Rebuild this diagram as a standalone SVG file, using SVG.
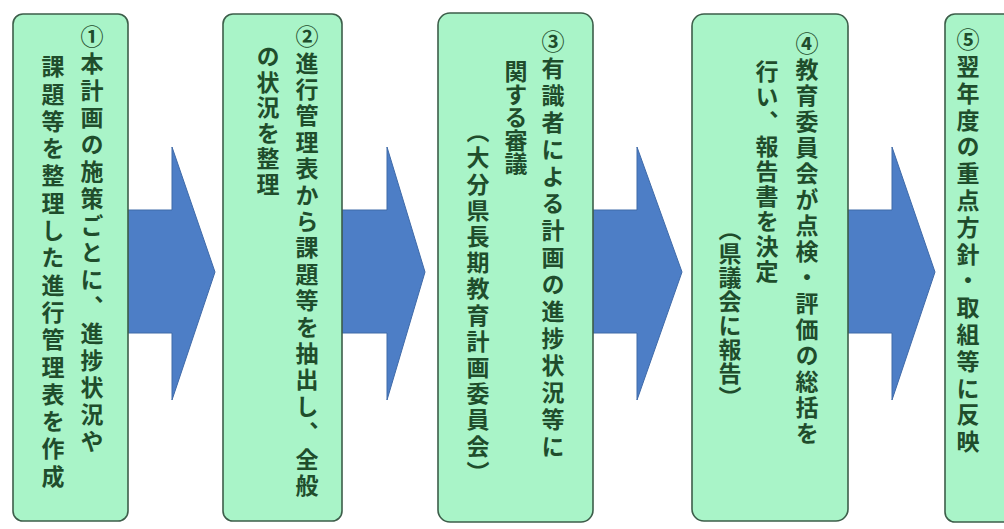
<svg xmlns="http://www.w3.org/2000/svg" width="1004" height="529" viewBox="0 0 1004 529">
<style>
.box{fill:#a9f4c8;stroke:#3d5e4a;stroke-width:1.6}
.t{font-family:"Noto Sans CJK JP","Noto Sans CJK SC",sans-serif;font-size:23px;font-weight:700;fill:#1f4d2c;writing-mode:vertical-rl;letter-spacing:2.5px}
.arr{fill:#4d7ec6;stroke:#3f6aa8;stroke-width:1}
</style>
<rect width="1004" height="529" fill="#ffffff"/>
<g id="connectors">
<polygon class="arr" points="128,210 172,210 172,147 215,272 172,400 172,333 128,333"/>
<polygon class="arr" points="342,210 387,210 387,147 425,272 387,400 387,333 342,333"/>
<polygon class="arr" points="593,210 637,210 637,147 682,272 637,400 637,333 593,333"/>
<polygon class="arr" points="848,210 892,210 892,147 935,272 892,400 892,333 848,333"/>
</g>
<g id="node1">
<rect class="box" x="13" y="14" width="115" height="507" rx="10"/>
<text class="t" x="92" y="25" style="letter-spacing:4px">①本計画の施策ごとに、進捗状況や</text>
<text class="t" x="53" y="55" style="letter-spacing:4.3px">課題等を整理した進行管理表を作成</text>
</g>
<g id="node2">
<rect class="box" x="223" y="14" width="119" height="507" rx="10"/>
<text class="t" x="307" y="25" style="letter-spacing:3.4px">②進行管理表から課題等を抽出し、全般</text>
<text class="t" x="268" y="45">の状況を整理</text>
</g>
<g id="node3">
<rect class="box" x="438" y="13" width="155" height="509" rx="12"/>
<text class="t" x="553" y="30" style="letter-spacing:4px">③有識者による計画の進捗状況等に</text>
<text class="t" x="516" y="60" style="letter-spacing:0px">関する審議</text>
<text class="t" x="478" y="120" style="letter-spacing:3.2px">（大分県長期教育計画委員会）</text>
</g>
<g id="node4">
<rect class="box" x="692" y="14" width="156" height="507" rx="12"/>
<text class="t" x="807" y="32" style="letter-spacing:3px">④教育委員会が点検・評価の総括を</text>
<text class="t" x="767" y="60" style="letter-spacing:2px">行い、報告書を決定</text>
<text class="t" x="730" y="218" style="letter-spacing:1px">（県議会に報告）</text>
</g>
<g id="node5">
<rect class="box" x="945" y="14" width="75" height="508" rx="10"/>
<text class="t" x="968" y="28" style="letter-spacing:3.8px">⑤翌年度の重点方針・取組等に反映</text>
</g>
</svg>
